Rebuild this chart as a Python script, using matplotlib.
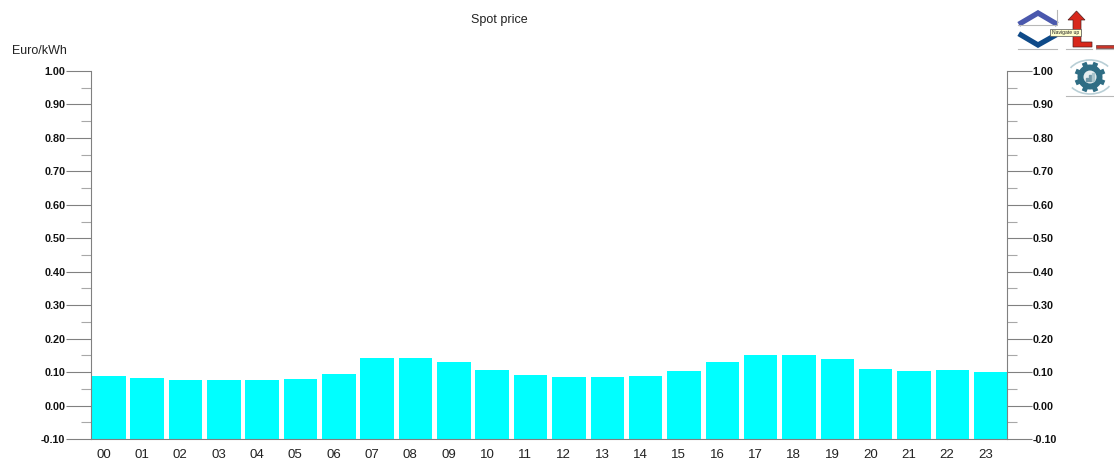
#!/usr/bin/env python3
import numpy as np
import matplotlib
matplotlib.use("Agg")
import matplotlib.pyplot as plt
from matplotlib.patches import Circle, Polygon, Rectangle, Arc

plt.rcParams["font.family"] = ["Liberation Sans", "DejaVu Sans"]

hours = ["00", "01", "02", "03", "04", "05", "06", "07", "08", "09", "10", "11",
         "12", "13", "14", "15", "16", "17", "18", "19", "20", "21", "22", "23"]
spot_price = [0.087, 0.082, 0.077, 0.076, 0.076, 0.080, 0.093, 0.142, 0.143, 0.131, 0.105, 0.090,
              0.085, 0.085, 0.088, 0.103, 0.131, 0.150, 0.150, 0.139, 0.110, 0.104, 0.107, 0.099]
major_ticks = [-0.10, 0.00, 0.10, 0.20, 0.30, 0.40, 0.50, 0.60, 0.70, 0.80, 0.90, 1.00]

WIDTH, HEIGHT = 1114, 462
GRAY = "#808080"
TEXT = "#222222"

fig = plt.figure(figsize=(WIDTH / 100, HEIGHT / 100), dpi=100)
ax = fig.add_axes([91 / WIDTH, 1 - 439 / HEIGHT, (1007 - 91) / WIDTH, (439 - 71) / HEIGHT])

x = np.arange(len(hours))
ax.bar(x, spot_price, bottom=0, width=0.874, align="edge", color="#00ffff")
# bars run down to the axis floor, not just to zero
ax.bar(x, [0.10] * len(hours), bottom=-0.10, width=0.874, align="edge", color="#00ffff")

ax.set_xlim(-0.026, 23.86)
ax.set_ylim(-0.10, 1.00)

ax.set_xticks(x + 0.30)
ax.set_xticklabels(hours, fontsize=9.5, color=TEXT)
ax.tick_params(axis="x", length=0, pad=7)

ax.set_yticks(major_ticks)
ax.set_yticklabels([f"{v:.2f}" for v in major_ticks], fontsize=7.8, fontweight="bold", color="#111111")
ax.set_yticks(np.array(major_ticks[:-1]) + 0.05, minor=True)
ax.tick_params(axis="y", which="major", length=18, width=0.8, color=GRAY, pad=0.5,
               left=True, right=True, labelleft=True, labelright=True)
ax.tick_params(axis="y", which="minor", length=7.2, width=0.8, color="#a8a8a8",
               left=True, right=True)

ax.spines["top"].set_visible(False)
for side in ["left", "right", "bottom"]:
    ax.spines[side].set_color(GRAY)
    ax.spines[side].set_linewidth(0.8)

fig.text(499.5 / WIDTH, 1 - 18.5 / HEIGHT, "Spot price", ha="center", va="center_baseline",
         fontsize=9, color=TEXT)
fig.text(12 / WIDTH, 1 - 49 / HEIGHT, "Euro/kWh", ha="left", va="center_baseline",
         fontsize=9, color=TEXT)

####################################
# Toolbar icons, in pixel coordinates
####################################
icons = fig.add_axes([0, 0, 1, 1])
icons.set_xlim(0, WIDTH)
icons.set_ylim(HEIGHT, 0)
icons.axis("off")
icons.patch.set_alpha(0)

# up / down chevrons
icons.plot([1021, 1038, 1055], [23, 13, 23], color="#4a58ad", lw=3.8, solid_joinstyle="miter")
icons.plot([1021, 1038, 1054], [35, 45, 36], color="#0f4a88", lw=3.8, solid_joinstyle="miter")
icons.plot([1018, 1057, 1057], [25, 25, 10], color="#b8b8b8", lw=0.8)
icons.plot([1018, 1057], [49, 49], color="#b8b8b8", lw=0.8)

# red up arrow
icons.add_patch(Polygon(
    [(1076.5, 11), (1085, 20), (1081, 20), (1081, 42), (1092, 42), (1092, 47),
     (1073, 47), (1073, 20), (1068, 20)],
    closed=True, facecolor="#d8281c", edgecolor="#502020", lw=0.5))
icons.add_patch(Rectangle((1096, 45), 18, 3, facecolor="#c8352a", edgecolor="#502020", lw=0.4))
icons.plot([1066, 1092], [49, 49], color="#b8b8b8", lw=0.8)
icons.plot([1096, 1114], [49, 49], color="#b8b8b8", lw=0.8)

# tooltip
icons.add_patch(Rectangle((1050, 29), 31, 7, facecolor="#ffffcc", edgecolor="#555555", lw=0.5, zorder=5))
icons.text(1065.5, 32.7, "Navigate up", ha="center", va="center", fontsize=3.6, color="#222222", zorder=6)

# settings gear
for angle in np.arange(0, 360, 45) + 22.5:
    dx, dy = np.cos(np.radians(angle)), np.sin(np.radians(angle))
    icons.plot([1090, 1090 + 15.5 * dx], [77, 77 + 15.5 * dy], color="#2f6d84", lw=3.6, solid_capstyle="butt")
icons.add_patch(Circle((1090, 77), 12.5, facecolor="#2f6d84", edgecolor="none", zorder=3))
icons.add_patch(Circle((1090, 77), 6.5, facecolor="#e6eef0", edgecolor="none", zorder=3))
icons.add_patch(Arc((1090, 77), 46, 34, theta1=205, theta2=330, color="#b9cfd6", lw=1.2))
icons.add_patch(Arc((1090, 77), 46, 34, theta1=25, theta2=150, color="#b9cfd6", lw=1.2))
icons.add_patch(Rectangle((1086, 78), 1.6, 3, color="#6f97a6", zorder=4))
icons.add_patch(Rectangle((1089, 75), 1.6, 6, color="#6f97a6", zorder=4))
icons.add_patch(Rectangle((1092, 73), 1.6, 8, color="#a9c4cc", zorder=4))
icons.plot([1066, 1114], [96, 96], color="#b8b8b8", lw=0.8)

fig.savefig("out.png", dpi=100)
